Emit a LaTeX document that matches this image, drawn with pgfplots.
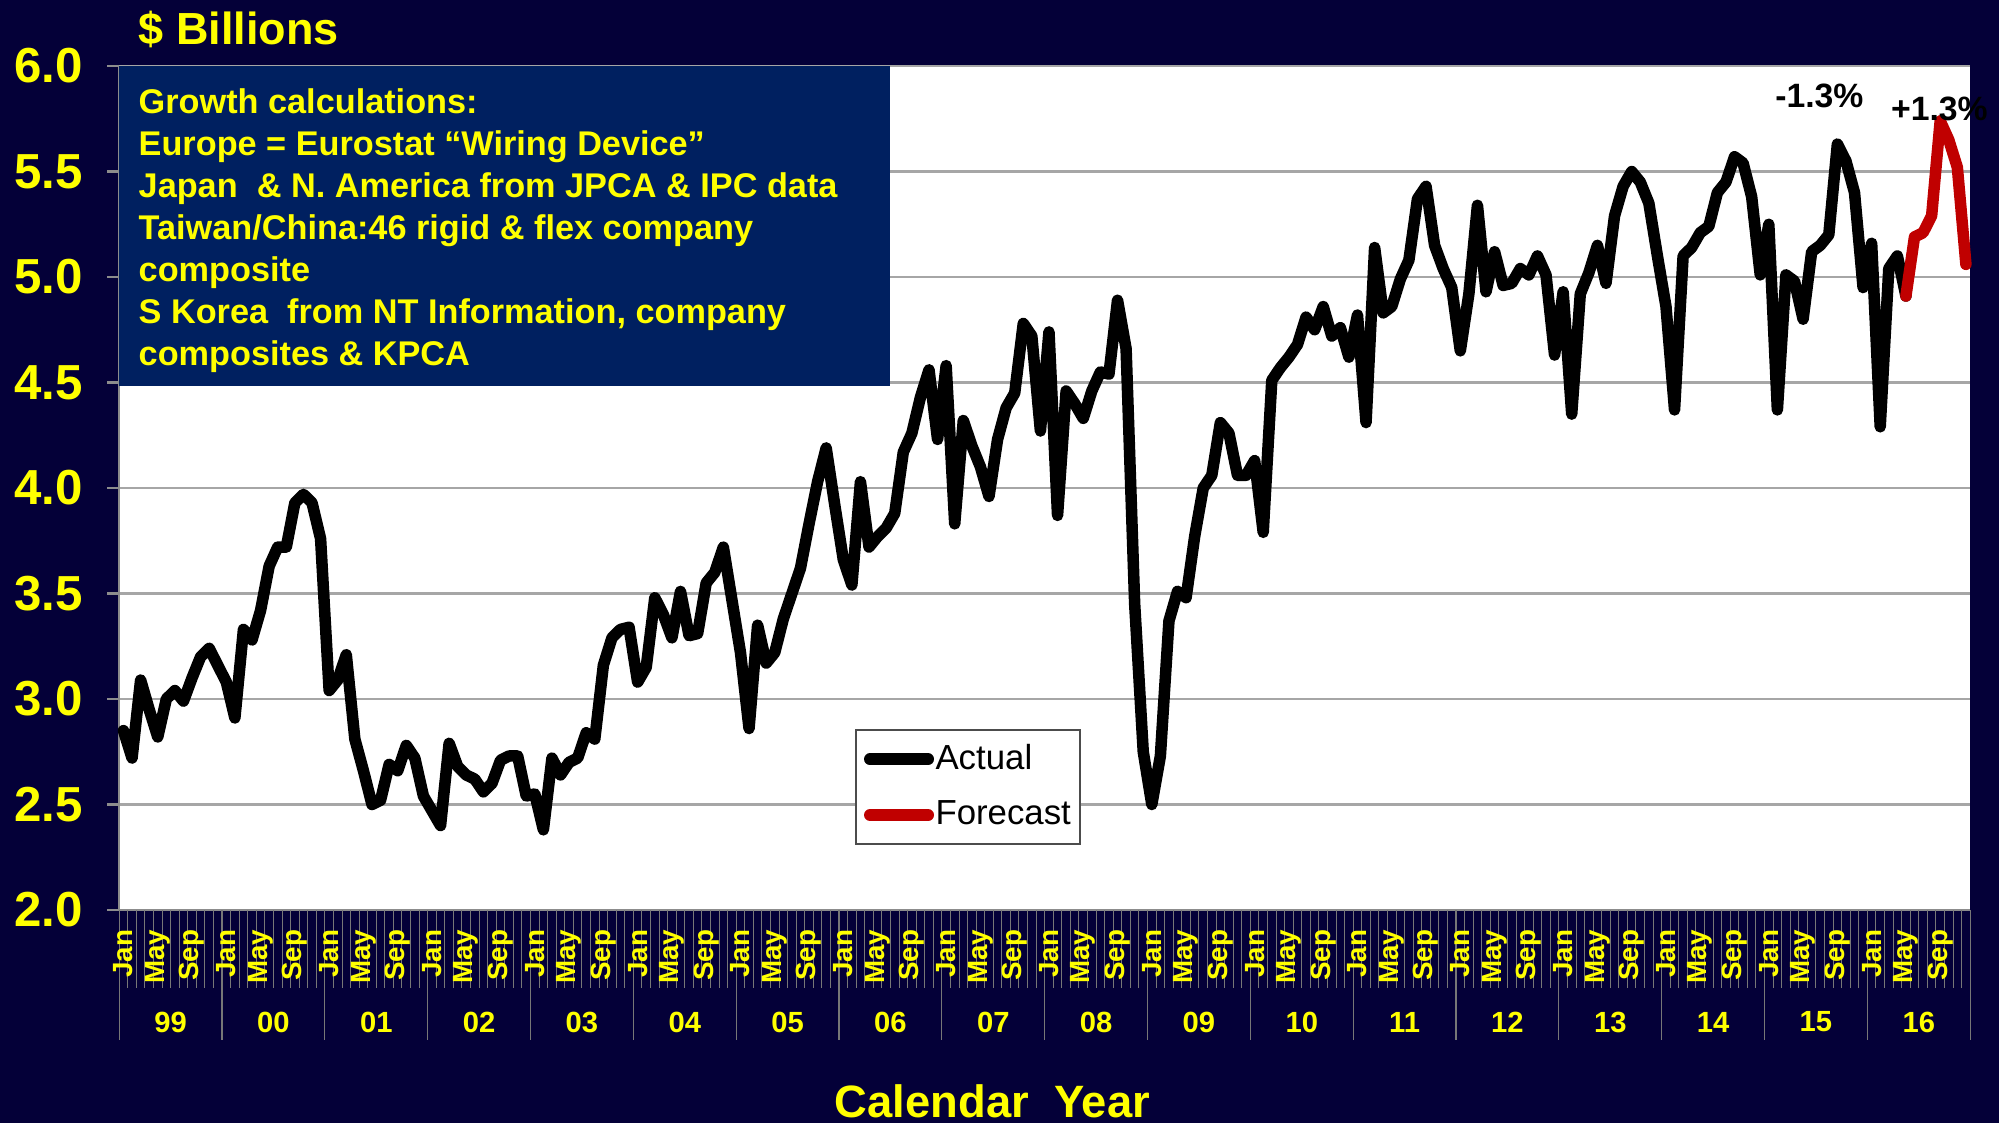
\documentclass[border=0pt]{standalone}
\usepackage{fontspec}
\setmainfont{Liberation Sans}
\usepackage{pgfplots}
\usepackage{pgfplotstable}
\pgfplotsset{compat=1.18}
\definecolor{slidebg}{HTML}{040038}
\definecolor{boxblue}{HTML}{002060}
\definecolor{ylw}{HTML}{FFFF00}
\definecolor{fcred}{HTML}{C00000}
\definecolor{gridgray}{HTML}{A6A6A6}
\definecolor{tickgray}{HTML}{8C8C8C}

% month index (Jan 1999 = 0.5), $ billions
\pgfplotstableread{
m v
0.5 2.85
1.5 2.72
2.5 3.09
3.5 2.95
4.5 2.82
5.5 3.00
6.5 3.04
7.5 2.99
8.5 3.10
9.5 3.20
10.5 3.24
11.5 3.16
12.5 3.08
13.5 2.91
14.5 3.33
15.5 3.28
16.5 3.42
17.5 3.63
18.5 3.72
19.5 3.72
20.5 3.93
21.5 3.97
22.5 3.93
23.5 3.76
24.5 3.04
25.5 3.09
26.5 3.21
27.5 2.81
28.5 2.66
29.5 2.50
30.5 2.52
31.5 2.69
32.5 2.66
33.5 2.78
34.5 2.72
35.5 2.54
36.5 2.47
37.5 2.40
38.5 2.79
39.5 2.68
40.5 2.64
41.5 2.62
42.5 2.56
43.5 2.60
44.5 2.71
45.5 2.73
46.5 2.73
47.5 2.54
48.5 2.55
49.5 2.38
50.5 2.72
51.5 2.64
52.5 2.70
53.5 2.72
54.5 2.84
55.5 2.81
56.5 3.16
57.5 3.29
58.5 3.33
59.5 3.34
60.5 3.08
61.5 3.15
62.5 3.48
63.5 3.40
64.5 3.29
65.5 3.51
66.5 3.30
67.5 3.31
68.5 3.55
69.5 3.60
70.5 3.72
71.5 3.47
72.5 3.22
73.5 2.86
74.5 3.35
75.5 3.17
76.5 3.22
77.5 3.38
78.5 3.50
79.5 3.62
80.5 3.83
81.5 4.03
82.5 4.19
83.5 3.92
84.5 3.66
85.5 3.54
86.5 4.03
87.5 3.72
88.5 3.77
89.5 3.81
90.5 3.88
91.5 4.17
92.5 4.26
93.5 4.43
94.5 4.56
95.5 4.23
96.5 4.58
97.5 3.83
98.5 4.32
99.5 4.20
100.5 4.10
101.5 3.96
102.5 4.23
103.5 4.38
104.5 4.45
105.5 4.78
106.5 4.72
107.5 4.27
108.5 4.74
109.5 3.87
110.5 4.46
111.5 4.40
112.5 4.33
113.5 4.46
114.5 4.55
115.5 4.54
116.5 4.89
117.5 4.66
118.5 3.45
119.5 2.75
120.5 2.50
121.5 2.73
122.5 3.37
123.5 3.51
124.5 3.48
125.5 3.77
126.5 4.00
127.5 4.06
128.5 4.31
129.5 4.26
130.5 4.06
131.5 4.06
132.5 4.13
133.5 3.79
134.5 4.51
135.5 4.57
136.5 4.62
137.5 4.68
138.5 4.81
139.5 4.75
140.5 4.86
141.5 4.72
142.5 4.76
143.5 4.62
144.5 4.82
145.5 4.31
146.5 5.14
147.5 4.83
148.5 4.86
149.5 4.99
150.5 5.08
151.5 5.37
152.5 5.43
153.5 5.15
154.5 5.04
155.5 4.95
156.5 4.65
157.5 4.92
158.5 5.34
159.5 4.93
160.5 5.12
161.5 4.96
162.5 4.97
163.5 5.04
164.5 5.01
165.5 5.10
166.5 5.01
167.5 4.63
168.5 4.93
169.5 4.35
170.5 4.92
171.5 5.02
172.5 5.15
173.5 4.97
174.5 5.29
175.5 5.43
176.5 5.50
177.5 5.45
178.5 5.35
179.5 5.10
180.5 4.86
181.5 4.37
182.5 5.10
183.5 5.14
184.5 5.21
185.5 5.24
186.5 5.40
187.5 5.45
188.5 5.57
189.5 5.54
190.5 5.38
191.5 5.01
192.5 5.25
193.5 4.37
194.5 5.01
195.5 4.98
196.5 4.80
197.5 5.12
198.5 5.15
199.5 5.20
200.5 5.63
201.5 5.55
202.5 5.40
203.5 4.95
204.5 5.16
205.5 4.29
206.5 5.04
207.5 5.10
208.5 4.91
}\actual

\pgfplotstableread{
m v
208.5 4.91
209.5 5.19
210.5 5.21
211.5 5.29
212.5 5.74
213.5 5.65
214.5 5.52
215.5 5.06
}\forecast

\begin{document}
\begin{tikzpicture}
% slide background, 1 px of the reference = 0.1 mm
\fill[slidebg] (0,0) rectangle (19.99,-11.23);

\begin{axis}[
  at={(1.192cm,-9.10cm)}, anchor=south west,
  scale only axis, width=18.51cm, height=8.44cm,
  xmin=0, xmax=216, ymin=2, ymax=6,
  xtick=\empty,
  ytick={2,2.5,3,3.5,4,4.5,5,5.5,6},
  ymajorgrids, grid style={gridgray, line width=0.6pt},
  axis background/.style={fill=white},
  axis x line*=bottom, axis y line*=left,
  axis line style={tickgray, line width=0.6pt},
  tick style={tickgray, line width=0.6pt},
  tick align=outside, major tick length=1.2mm,
  /pgf/number format/assume math mode=true,
  yticklabel style={color=ylw, font=\fontsize{14}{14}\selectfont\bfseries,
    anchor=east, inner sep=0pt, xshift=-2.4mm,
    /pgf/number format/.cd, fixed, fixed zerofill, precision=1},
  clip=false,
  legend style={at={(0.3975,0.2145)}, anchor=north west, draw=black!70,
    line width=0.6pt, fill=white, inner xsep=0.8mm, inner ysep=1.4mm,
    row sep=2.6mm, font=\fontsize{9.9}{11}\selectfont,
    nodes={inner xsep=0.15mm, inner ysep=0pt}},
  legend cell align=left,
  legend image code/.code={\draw[#1, line cap=round, line width=1.2mm] (0mm,0mm) -- (5.8mm,0mm);},
]
\addplot[black, line width=1.15mm, line join=round, line cap=round] table[x=m, y=v] {\actual};
\addlegendentry{Actual}
\addplot[fcred, line width=1.15mm, line join=round, line cap=round] table[x=m, y=v] {\forecast};
\addlegendentry{Forecast}

\node[font=\fontsize{9.6}{10}\selectfont\bfseries] at (axis cs:198.4,5.858) {-1.3\%};
\node[font=\fontsize{9.6}{10}\selectfont\bfseries] at (axis cs:212.4,5.796) {+1.3\%};
\end{axis}

% month ticks and year separators under the axis
\foreach \k in {0,...,216} {
  \pgfmathsetmacro\xx{1.192+18.51*\k/216}
  \draw[tickgray!85!black, line width=0.1mm] (\xx,-9.10) -- (\xx,-9.88);
}
\foreach \k in {0,...,18} {
  \pgfmathsetmacro\xx{1.192+18.51*\k/18}
  \draw[tickgray!85!black, line width=0.12mm] (\xx,-9.10) -- (\xx,-10.40);
}
% month and year labels
\foreach \yr [count=\y from 0] in {99,00,01,02,03,04,05,06,07,08,09,10,11,12,13,14,15,16} {
  \foreach \m/\name in {0/Jan,4/May,8/Sep} {
    \pgfmathsetmacro\xx{1.192+18.51*(12*\y+\m+0.5)/216}
    \node[rotate=90, anchor=east, inner sep=0pt, text=ylw,
      font=\fontsize{7.9}{8}\selectfont\bfseries] at (\xx,-9.29) {\name};
  }
  \pgfmathsetmacro\xc{1.192+18.51*(\y+0.5)/18}
  \node[text=ylw, font=\fontsize{8.3}{9}\selectfont\bfseries] at (\xc,-10.22) {\yr};
}

% titles
\node[anchor=base west, inner sep=0pt, text=ylw, font=\fontsize{12.8}{13}\selectfont\bfseries]
  at (1.38,-0.44) {\$ Billions};
\node[anchor=base, inner sep=0pt, text=ylw, font=\fontsize{12.9}{14}\selectfont\bfseries]
  at (9.925,-11.17) {Calendar\ \ Year};

% source note box
\fill[boxblue] (1.192,-0.66) rectangle (8.90,-3.86);
\foreach \t [count=\j from 0] in {
  Growth calculations:,
  Europe = Eurostat “Wiring Device”,
  Japan\ \ \& N. America from JPCA \& IPC data,
  Taiwan/China:46 rigid \& flex company,
  composite,
  S Korea\ \ from NT Information{,} company,
  composites \& KPCA} {
  \node[anchor=base west, inner sep=0pt, text=ylw, font=\fontsize{9.75}{11}\selectfont\bfseries]
    at (1.38,-1.135-0.42*\j) {\t};
}

\pgfresetboundingbox
\useasboundingbox (0,0) rectangle (19.99,-11.23);
\end{tikzpicture}
\end{document}
